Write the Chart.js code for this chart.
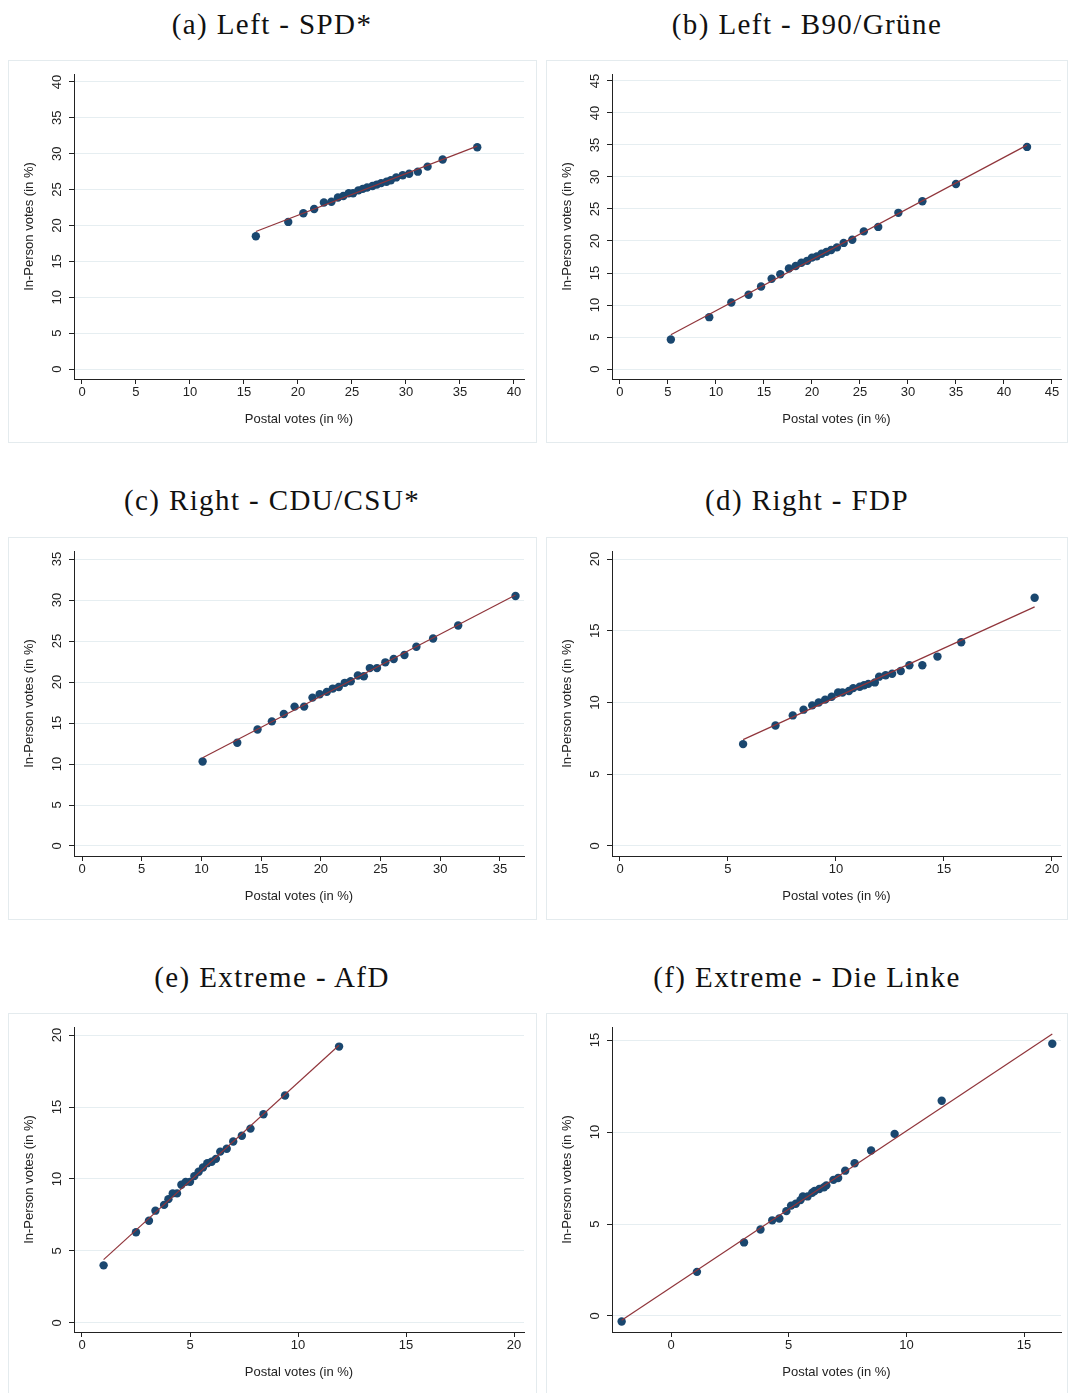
<!DOCTYPE html>
<html>
<head>
<meta charset="utf-8">
<script src="https://cdn.jsdelivr.net/npm/chart.js@4.4.1/dist/chart.umd.min.js"></script>
<style>
  body { margin: 0; background: #fff; width: 1068px; height: 1393px; overflow: hidden; position: relative; }
  .title { position: absolute; width: 540px; text-align: center; font-family: 'Liberation Serif', serif; font-size: 29px; letter-spacing: 1.4px; color: #111; line-height: 32px; }
  .box { position: absolute; border: 1px solid #e4ebee; background: #fff; }
  .box canvas { display: block; }
</style>
</head>
<body>
<div class="title" style="left:2px; top:8px;">(a) Left - SPD*</div>
<div class="title" style="left:537px; top:8px;">(b) Left - B90/Grüne</div>
<div class="title" style="left:2px; top:484px;">(c) Right - CDU/CSU*</div>
<div class="title" style="left:537px; top:484px;">(d) Right - FDP</div>
<div class="title" style="left:2px; top:961px;">(e) Extreme - AfD</div>
<div class="title" style="left:537px; top:961px;">(f) Extreme - Die Linke</div>

<div class="box" style="left:8px; top:60px;"><canvas id="spd" width="527" height="381"></canvas></div>
<div class="box" style="left:546px; top:60px;"><canvas id="gruene" width="520" height="381"></canvas></div>
<div class="box" style="left:8px; top:537px;"><canvas id="cdu" width="527" height="381"></canvas></div>
<div class="box" style="left:546px; top:537px;"><canvas id="fdp" width="520" height="381"></canvas></div>
<div class="box" style="left:8px; top:1013px;"><canvas id="afd" width="527" height="380"></canvas></div>
<div class="box" style="left:546px; top:1013px;"><canvas id="linke" width="520" height="380"></canvas></div>

<script>
// values, one point per constituency group
const spdPostal   = [16.1, 19.1, 20.5, 21.5, 22.4, 23.1, 23.7, 24.2, 24.7, 25.1, 25.6, 26.0, 26.4, 26.9, 27.3, 27.7, 28.2, 28.6, 29.1, 29.7, 30.3, 31.1, 32.0, 33.4, 36.6];
const spdInPerson = [18.5, 20.5, 21.7, 22.3, 23.2, 23.3, 23.9, 24.1, 24.5, 24.5, 24.9, 25.1, 25.3, 25.5, 25.7, 25.9, 26.1, 26.3, 26.7, 27.0, 27.2, 27.5, 28.2, 29.2, 30.9];

const gruenePostal   = [5.3, 9.3, 11.6, 13.4, 14.7, 15.8, 16.7, 17.6, 18.3, 18.9, 19.5, 20.0, 20.5, 21.0, 21.5, 22.0, 22.6, 23.3, 24.2, 25.4, 26.9, 29.0, 31.5, 35.0, 42.4];
const grueneInPerson = [4.6, 8.1, 10.4, 11.6, 12.9, 14.1, 14.8, 15.7, 16.1, 16.6, 16.9, 17.4, 17.6, 18.0, 18.3, 18.6, 19.0, 19.7, 20.2, 21.5, 22.2, 24.4, 26.2, 28.9, 34.7];

const cduPostal   = [10.1, 13.0, 14.7, 15.9, 16.9, 17.8, 18.6, 19.3, 19.9, 20.5, 21.0, 21.5, 22.0, 22.5, 23.1, 23.6, 24.1, 24.7, 25.4, 26.1, 27.0, 28.0, 29.4, 31.5, 36.3];
const cduInPerson = [10.3, 12.6, 14.2, 15.2, 16.1, 17.0, 17.0, 18.1, 18.5, 18.8, 19.2, 19.4, 19.9, 20.1, 20.8, 20.7, 21.7, 21.7, 22.4, 22.8, 23.3, 24.3, 25.3, 26.9, 30.5];

const fdpPostal   = [5.7, 7.2, 8.0, 8.5, 8.9, 9.2, 9.5, 9.8, 10.1, 10.3, 10.6, 10.8, 11.1, 11.3, 11.5, 11.8, 12.0, 12.3, 12.6, 13.0, 13.4, 14.0, 14.7, 15.8, 19.2];
const fdpInPerson = [7.1, 8.4, 9.1, 9.5, 9.8, 10.0, 10.2, 10.4, 10.7, 10.7, 10.8, 11.0, 11.1, 11.2, 11.3, 11.4, 11.8, 11.9, 12.0, 12.2, 12.6, 12.6, 13.2, 14.2, 17.3];

const afdPostal   = [1.0, 2.5, 3.1, 3.4, 3.8, 4.0, 4.2, 4.4, 4.6, 4.8, 5.0, 5.2, 5.4, 5.6, 5.8, 6.0, 6.2, 6.4, 6.7, 7.0, 7.4, 7.8, 8.4, 9.4, 11.9];
const afdInPerson = [4.0, 6.3, 7.1, 7.8, 8.2, 8.6, 9.0, 9.0, 9.6, 9.8, 9.8, 10.2, 10.5, 10.8, 11.1, 11.2, 11.4, 11.9, 12.1, 12.6, 13.0, 13.5, 14.5, 15.8, 19.2];

const linkePostal   = [-2.1, 1.1, 3.1, 3.8, 4.3, 4.6, 4.9, 5.1, 5.3, 5.5, 5.6, 5.8, 6.0, 6.1, 6.3, 6.5, 6.6, 6.9, 7.1, 7.4, 7.8, 8.5, 9.5, 11.5, 16.2];
const linkeInPerson = [-0.3, 2.4, 4.0, 4.7, 5.2, 5.3, 5.7, 6.0, 6.1, 6.3, 6.5, 6.5, 6.7, 6.8, 6.9, 7.0, 7.1, 7.4, 7.5, 7.9, 8.3, 9.0, 9.9, 11.7, 14.8];

// tick labels
const ticks0to40 = [0, 5, 10, 15, 20, 25, 30, 35, 40];
const ticks0to45 = [0, 5, 10, 15, 20, 25, 30, 35, 40, 45];
const ticks0to35 = [0, 5, 10, 15, 20, 25, 30, 35];
const ticks0to20 = [0, 5, 10, 15, 20];
const ticks0to15 = [0, 5, 10, 15];

Chart.defaults.font.family = "'Liberation Sans', Arial, sans-serif";
Chart.defaults.font.size = 13;
Chart.defaults.color = '#222';

// linear fit over the range of the data (like stata lfit)
function fitLine(xs, ys) {
    const n = xs.length;
    const mx = xs.reduce((a, b) => a + b, 0) / n;
    const my = ys.reduce((a, b) => a + b, 0) / n;
    let sxy = 0, sxx = 0;
    for (let i = 0; i < n; i++) {
        sxy += (xs[i] - mx) * (ys[i] - my);
        sxx += (xs[i] - mx) * (xs[i] - mx);
    }
    const b = sxy / sxx;
    const a = my - b * mx;
    const lo = Math.min(...xs), hi = Math.max(...xs);
    return [{x: lo, y: a + b * lo}, {x: hi, y: a + b * hi}];
}

function scatterPanel(id, xs, ys, xTicks, yTicks, xRange, yRange) {
    const canvas = document.getElementById(id);
    const H = canvas.height;
    const W = canvas.width;
    const points = xs.map((x, i) => ({x: x, y: ys[i]}));
    new Chart(canvas, {
        type: 'scatter',
        data: {
            datasets: [
                {
                    label: 'Fitted values',
                    data: fitLine(xs, ys),
                    showLine: true,
                    borderColor: '#90353b',
                    borderWidth: 1.2,
                    pointRadius: 0,
                },
                {
                    label: 'In-Person votes',
                    data: points,
                    pointRadius: 4.2,
                    pointBackgroundColor: '#1a476f',
                    pointBorderWidth: 0,
                },
            ]
        },
        options: {
            responsive: false,
            animation: false,
            events: [],
            layout: {
                padding: {top: 13, right: W - 65 - (W === 527 ? 450 : 449), left: 0, bottom: 0}
            },
            plugins: {
                legend: {display: false},
                tooltip: {enabled: false},
            },
            scales: {
                x: {
                    type: 'linear',
                    min: xRange[0],
                    max: xRange[1],
                    afterBuildTicks: s => { s.ticks = xTicks.map(v => ({value: v})); },
                    afterFit: s => { s.height = H - 318; },
                    grid: {drawOnChartArea: false, tickLength: 5, tickColor: '#222'},
                    border: {color: '#222', width: 1},
                    ticks: {padding: 1, autoSkip: false, maxRotation: 0},
                    title: {
                        display: true,
                        text: 'Postal votes (in %)',
                        padding: {top: 0, bottom: H - 358 - 8},
                    },
                },
                y: {
                    type: 'linear',
                    min: yRange[0],
                    max: yRange[1],
                    afterBuildTicks: s => { s.ticks = yTicks.map(v => ({value: v})); },
                    afterFit: s => { s.width = 65; },
                    grid: {color: '#e6eef1', tickLength: 5, tickColor: '#222'},
                    border: {color: '#222', width: 1},
                    ticks: {minRotation: 90, maxRotation: 90, crossAlign: 'center', padding: 4, autoSkip: false},
                    title: {
                        display: true,
                        text: 'In-Person votes (in %)',
                        padding: {top: 13, bottom: 0},
                    },
                },
            },
        }
    });
}

scatterPanel('spd', spdPostal, spdInPerson, ticks0to40, ticks0to40, [-0.74, 40.93], [-1.39, 41.11]);
scatterPanel('gruene', gruenePostal, grueneInPerson, ticks0to45, ticks0to45, [-0.83, 45.94], [-1.56, 46.09]);
scatterPanel('cdu', cduPostal, cduInPerson, ticks0to35, ticks0to35, [-0.67, 37.01], [-1.22, 35.98]);
scatterPanel('fdp', fdpPostal, fdpInPerson, ticks0to20, ticks0to20, [-0.37, 20.42], [-0.70, 20.56]);
scatterPanel('afd', afdPostal, afdInPerson, ticks0to20, ticks0to20, [-0.37, 20.46], [-0.63, 20.56]);
scatterPanel('linke', linkePostal, linkeInPerson, ticks0to15, ticks0to15, [-2.51, 16.57], [-0.87, 15.71]);
</script>
</body>
</html>
